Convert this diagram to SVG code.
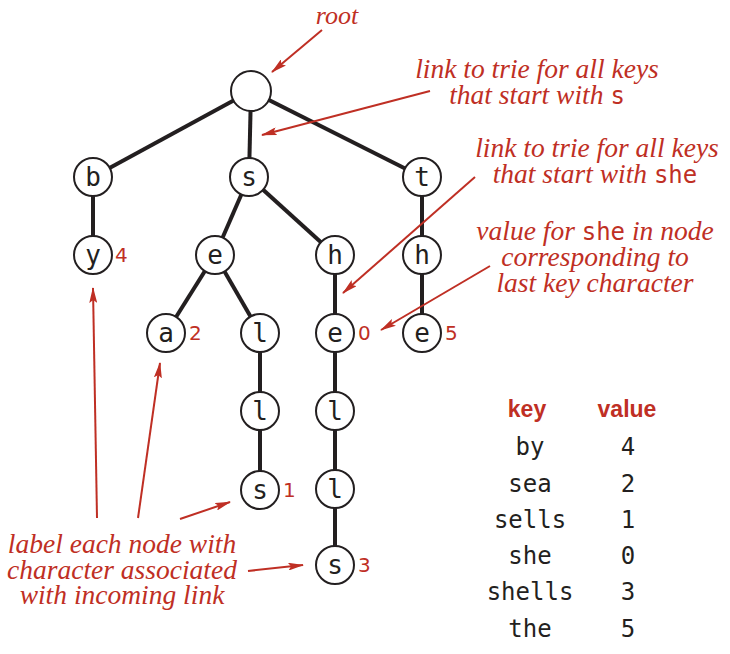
<svg xmlns="http://www.w3.org/2000/svg" width="730" height="654" viewBox="0 0 730 654">
<style>
.edge{stroke:#231f20;stroke-width:4;fill:none}
.node circle{fill:#fff;stroke:#231f20;stroke-width:2}
.lbl{font-family:"DejaVu Sans Mono","Liberation Mono",monospace;font-size:26px;fill:#231f20;text-anchor:middle}
.val{font-family:"DejaVu Sans","Liberation Sans",sans-serif;font-size:20px;fill:#bf2f24}
.note{font-family:"Liberation Serif",serif;font-style:italic;font-size:27.5px;fill:#bf2f24;text-anchor:middle}
.mono{font-family:"DejaVu Sans Mono","Liberation Mono",monospace;font-style:normal;font-size:24px}
.arrow{stroke:#bf2f24;stroke-width:2;fill:none;marker-end:url(#ah)}
.hdr{font-family:"Liberation Sans",sans-serif;font-weight:bold;font-size:23px;fill:#bf2f24;text-anchor:middle}
.tbl{font-family:"DejaVu Sans Mono","Liberation Mono",monospace;font-size:24px;fill:#231f20;text-anchor:middle}
</style>
<defs>
<marker id="ah" markerWidth="16" markerHeight="8" refX="15" refY="4" orient="auto" markerUnits="userSpaceOnUse">
<path d="M0,0 L16,4 L0,8 L3,4 z" fill="#bf2f24"/>
</marker>
</defs>
<g id="edges">
<line class="edge" x1="251" y1="91" x2="93" y2="177"/>
<line class="edge" x1="251" y1="91" x2="249" y2="177"/>
<line class="edge" x1="251" y1="91" x2="422" y2="177"/>
<line class="edge" x1="93" y1="177" x2="93" y2="255"/>
<line class="edge" x1="249" y1="177" x2="215" y2="255"/>
<line class="edge" x1="249" y1="177" x2="335" y2="255"/>
<line class="edge" x1="422" y1="177" x2="422" y2="255"/>
<line class="edge" x1="215" y1="255" x2="166" y2="333"/>
<line class="edge" x1="215" y1="255" x2="260" y2="333"/>
<line class="edge" x1="335" y1="255" x2="335" y2="333"/>
<line class="edge" x1="422" y1="255" x2="422" y2="333"/>
<line class="edge" x1="260" y1="333" x2="260" y2="411"/>
<line class="edge" x1="260" y1="411" x2="260" y2="490"/>
<line class="edge" x1="335" y1="333" x2="335" y2="411"/>
<line class="edge" x1="335" y1="411" x2="335" y2="489"/>
<line class="edge" x1="335" y1="489" x2="335" y2="565"/>
</g>
<g id="root" class="node"><circle cx="251" cy="91" r="20"/></g>
<g id="n-b" class="node"><circle cx="93" cy="177" r="19"/><text class="lbl" x="93" y="186">b</text></g>
<g id="n-s" class="node"><circle cx="249" cy="177" r="19"/><text class="lbl" x="249" y="186">s</text></g>
<g id="n-t" class="node"><circle cx="422" cy="177" r="19"/><text class="lbl" x="422" y="186">t</text></g>
<g id="n-by" class="node"><circle cx="93" cy="255" r="19"/><text class="lbl" x="93" y="264">y</text><text class="val" x="115" y="262">4</text></g>
<g id="n-se" class="node"><circle cx="215" cy="255" r="19"/><text class="lbl" x="215" y="264">e</text></g>
<g id="n-sh" class="node"><circle cx="335" cy="255" r="19"/><text class="lbl" x="335" y="264">h</text></g>
<g id="n-th" class="node"><circle cx="422" cy="255" r="19"/><text class="lbl" x="422" y="264">h</text></g>
<g id="n-sea" class="node"><circle cx="166" cy="333" r="19"/><text class="lbl" x="166" y="342">a</text><text class="val" x="189" y="340">2</text></g>
<g id="n-sel" class="node"><circle cx="260" cy="333" r="19"/><text class="lbl" x="260" y="342">l</text></g>
<g id="n-she" class="node"><circle cx="335" cy="333" r="19"/><text class="lbl" x="335" y="342">e</text><text class="val" x="358" y="340">0</text></g>
<g id="n-the" class="node"><circle cx="422" cy="333" r="19"/><text class="lbl" x="422" y="342">e</text><text class="val" x="445" y="340">5</text></g>
<g id="n-sell" class="node"><circle cx="260" cy="411" r="19"/><text class="lbl" x="260" y="420">l</text></g>
<g id="n-shel" class="node"><circle cx="335" cy="411" r="19"/><text class="lbl" x="335" y="420">l</text></g>
<g id="n-sells" class="node"><circle cx="260" cy="490" r="19"/><text class="lbl" x="260" y="499">s</text><text class="val" x="283" y="497">1</text></g>
<g id="n-shell" class="node"><circle cx="335" cy="489" r="19"/><text class="lbl" x="335" y="498">l</text></g>
<g id="n-shells" class="node"><circle cx="335" cy="565" r="19"/><text class="lbl" x="335" y="574">s</text><text class="val" x="358" y="572">3</text></g>
<g id="annotations">
<text class="note" x="337" y="24" style="font-size:26px">root</text>
<text class="note" x="537" y="78">link to trie for all keys</text>
<text class="note" x="537" y="104">that start with <tspan class="mono">s</tspan></text>
<text class="note" x="597" y="157">link to trie for all keys</text>
<text class="note" x="595" y="183">that start with <tspan class="mono">she</tspan></text>
<text class="note" x="595" y="240">value for <tspan class="mono">she</tspan> in node</text>
<text class="note" x="595" y="266">corresponding to</text>
<text class="note" x="595" y="292">last key character</text>
<text class="note" x="122" y="553">label each node with</text>
<text class="note" x="122" y="579">character associated</text>
<text class="note" x="122" y="604">with incoming link</text>
</g>
<g id="arrows">
<line class="arrow" x1="322" y1="30" x2="272" y2="72"/>
<line class="arrow" x1="430" y1="91" x2="262" y2="135"/>
<line class="arrow" x1="475" y1="177" x2="343" y2="293"/>
<line class="arrow" x1="490" y1="266" x2="381" y2="330"/>
<line class="arrow" x1="97" y1="518" x2="93" y2="288"/>
<line class="arrow" x1="138" y1="518" x2="160" y2="363"/>
<line class="arrow" x1="180" y1="519" x2="230" y2="502"/>
<line class="arrow" x1="248" y1="571" x2="303" y2="565"/>
</g>
<g id="table">
<text class="hdr" x="527" y="417">key</text>
<text class="hdr" x="627" y="417">value</text>
<text class="tbl" x="530" y="455">by</text><text class="tbl" x="628" y="455">4</text>
<text class="tbl" x="530" y="492">sea</text><text class="tbl" x="628" y="492">2</text>
<text class="tbl" x="530" y="528">sells</text><text class="tbl" x="628" y="528">1</text>
<text class="tbl" x="530" y="564">she</text><text class="tbl" x="628" y="564">0</text>
<text class="tbl" x="530" y="600">shells</text><text class="tbl" x="628" y="600">3</text>
<text class="tbl" x="530" y="637">the</text><text class="tbl" x="628" y="637">5</text>
</g>
</svg>
